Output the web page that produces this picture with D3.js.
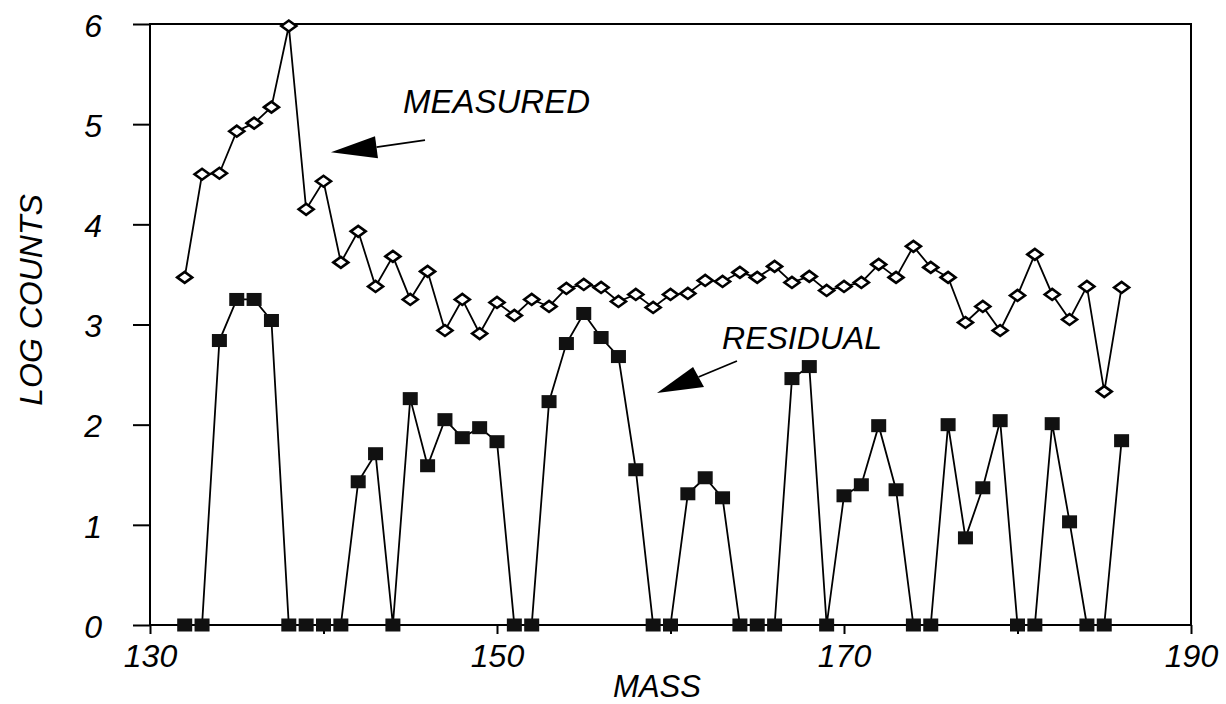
<!DOCTYPE html>
<html>
<head>
<meta charset="utf-8">
<script src="https://d3js.org/d3.v7.min.js"></script>
<style>
  body { margin: 0; background: #fff; }
  svg text { font-family: "Liberation Sans", Arial, sans-serif; font-style: italic; fill: #000; }
</style>
</head>
<body>
<div id="chart"></div>
<script>
// mass numbers (x) and the two series
var masses = [132, 133, 134, 135, 136, 137, 138, 139, 140, 141, 142, 143, 144, 145, 146, 147, 148, 149,
  150, 151, 152, 153, 154, 155, 156, 157, 158, 159, 160, 161, 162, 163, 164, 165, 166, 167, 168, 169,
  170, 171, 172, 173, 174, 175, 176, 177, 178, 179, 180, 181, 182, 183, 184, 185, 186];

var measured = [3.47, 4.50, 4.51, 4.93, 5.01, 5.17, 5.98, 4.15, 4.43, 3.62, 3.93, 3.38, 3.68, 3.25, 3.53,
  2.94, 3.25, 2.91, 3.22, 3.09, 3.25, 3.18, 3.36, 3.40, 3.37, 3.23, 3.30, 3.17, 3.30, 3.31, 3.44,
  3.43, 3.52, 3.47, 3.58, 3.42, 3.48, 3.34, 3.38, 3.42, 3.60, 3.47, 3.78, 3.57, 3.47, 3.02, 3.18,
  2.94, 3.29, 3.70, 3.30, 3.05, 3.38, 2.33, 3.37];

var residual = [0, 0, 2.84, 3.25, 3.25, 3.04, 0, 0, 0, 0, 1.43, 1.71, 0, 2.26, 1.59, 2.05, 1.87, 1.97,
  1.83, 0, 0, 2.23, 2.81, 3.11, 2.87, 2.68, 1.55, 0, 0, 1.31, 1.47, 1.27, 0, 0, 0, 2.46, 2.58, 0,
  1.29, 1.40, 1.99, 1.35, 0, 0, 2.00, 0.87, 1.37, 2.04, 0, 0, 2.01, 1.03, 0, 0, 1.84];

var xTicks = [130, 140, 150, 160, 170, 180, 190];
var xLabels = [130, 150, 170, 190];
var yTicks = [0, 1, 2, 3, 4, 5, 6];

function main()
{
  var svgWidth = 1226;
  var svgHeight = 704;

  var svg = d3.select("#chart").append("svg")
    .attr("width", svgWidth)
    .attr("height", svgHeight);

  var xScale = d3.scaleLinear().domain([130, 190]).range([150, 1191]);
  var yScale = d3.scaleLinear().domain([0, 6]).range([625, 24]);

  // frame
  svg.append("rect")
    .attr("x", xScale(130))
    .attr("y", yScale(6))
    .attr("width", xScale(190) - xScale(130))
    .attr("height", yScale(0) - yScale(6))
    .attr("fill", "none")
    .attr("stroke", "#000")
    .attr("stroke-width", 2);

  // x axis, ticks pointing down, only every other one labelled
  var xAxis = svg.append("g")
    .attr("transform", "translate(0," + yScale(0) + ")")
    .call(d3.axisBottom(xScale)
      .tickValues(xTicks)
      .tickSize(9)
      .tickPadding(10)
      .tickFormat(function(d) { return xLabels.indexOf(d) >= 0 ? d : ""; }));
  xAxis.select(".domain").remove();
  xAxis.selectAll("line").attr("stroke-width", 2);
  xAxis.selectAll("text")
    .style("font-size", "32px")
    .attr("font-family", null);

  // y axis
  var yAxis = svg.append("g")
    .attr("transform", "translate(" + xScale(130) + ",0)")
    .call(d3.axisLeft(yScale)
      .tickValues(yTicks)
      .tickSize(17)
      .tickPadding(31)
      .tickFormat(d3.format("d")));
  yAxis.select(".domain").remove();
  yAxis.selectAll("line").attr("stroke-width", 2);
  yAxis.selectAll("text")
    .style("font-size", "32px")
    .attr("dy", "0.38em")
    .attr("font-family", null);

  // axis titles
  svg.append("text")
    .attr("x", 657)
    .attr("y", 697)
    .attr("text-anchor", "middle")
    .style("font-size", "31px")
    .text("MASS");

  svg.append("text")
    .attr("transform", "translate(42,300) rotate(-90)")
    .attr("text-anchor", "middle")
    .style("font-size", "32px")
    .text("LOG COUNTS");

  var line = d3.line()
    .x(function(d) { return xScale(d[0]); })
    .y(function(d) { return yScale(d[1]); });

  var measPts = masses.map(function(m, i) { return [m, measured[i]]; });
  var residPts = masses.map(function(m, i) { return [m, residual[i]]; });

  // measured series
  svg.append("path")
    .datum(measPts)
    .attr("d", line)
    .attr("fill", "none")
    .attr("stroke", "#000")
    .attr("stroke-width", 1.8);

  svg.selectAll(".diamond")
    .data(measPts)
    .enter()
    .append("path")
    .attr("class", "diamond")
    .attr("transform", function(d) { return "translate(" + xScale(d[0]) + "," + yScale(d[1]) + ")"; })
    .attr("d", "M-7.5,0L0,-5.5L7.5,0L0,5.5Z")
    .attr("fill", "#fff")
    .attr("stroke", "#000")
    .attr("stroke-width", 2.6);

  // residual series
  svg.append("path")
    .datum(residPts)
    .attr("d", line)
    .attr("fill", "none")
    .attr("stroke", "#000")
    .attr("stroke-width", 1.8);

  svg.selectAll(".square")
    .data(residPts)
    .enter()
    .append("rect")
    .attr("class", "square")
    .attr("x", function(d) { return xScale(d[0]) - 7.5; })
    .attr("y", function(d) { return yScale(d[1]) - 6.5; })
    .attr("width", 15)
    .attr("height", 13)
    .attr("fill", "#111");

  // annotations with arrows, placed in data units
  function arrow(tip, b1, b2, tail) {
    var mid = [(b1[0] + b2[0]) / 2, (b1[1] + b2[1]) / 2];
    svg.append("path")
      .attr("d", "M" + xScale(mid[0]) + "," + yScale(mid[1]) + "L" + xScale(tail[0]) + "," + yScale(tail[1]))
      .attr("stroke", "#000")
      .attr("stroke-width", 1.8);
    svg.append("path")
      .attr("d", "M" + xScale(tip[0]) + "," + yScale(tip[1]) +
        "L" + xScale(b1[0]) + "," + yScale(b1[1]) +
        "L" + xScale(b2[0]) + "," + yScale(b2[1]) + "Z")
      .attr("fill", "#000");
  }

  arrow([140.43, 4.72], [142.97, 4.88], [143.14, 4.66], [145.85, 4.84]);
  arrow([159.22, 2.316], [161.30, 2.576], [161.93, 2.376], [163.83, 2.636]);

  svg.append("text")
    .attr("x", xScale(144.58))
    .attr("y", yScale(5.11))
    .style("font-size", "33px")
    .text("MEASURED");

  svg.append("text")
    .attr("x", xScale(162.97))
    .attr("y", yScale(2.755))
    .style("font-size", "32px")
    .text("RESIDUAL");
}
main();
</script>
</body>
</html>
